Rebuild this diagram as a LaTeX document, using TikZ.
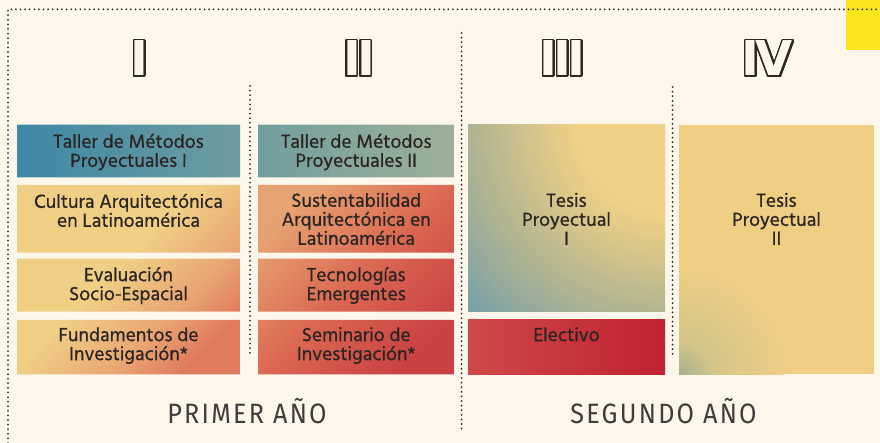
\documentclass[tikz,border=0pt]{standalone}
\usepackage{fontspec}
\usepackage{contour}
\setmainfont{Hind Madurai}[FakeBold=0.8]
\newfontfamily\numfont{DejaVu Sans}[LetterSpace=-8]
\newfontfamily\yearfont{Fira Sans}[LetterSpace=8, FakeStretch=0.9]
\usetikzlibrary{fit}
\contourlength{1.6pt}
\contournumber{32}
\definecolor{bg}{HTML}{FDF6EA}
\definecolor{tabyellow}{HTML}{FBE51B}
\definecolor{dotc}{HTML}{2B2B2B}
\definecolor{txt}{HTML}{2A2522}
\definecolor{numc}{HTML}{2B2724}
\definecolor{yearc}{HTML}{403C3C}
\definecolor{ba}{HTML}{3D88A7}
\definecolor{bb}{HTML}{5F99AA}
\definecolor{bc}{HTML}{9DB098}
\definecolor{wy}{HTML}{F0CF84}
\definecolor{wo}{HTML}{E9A673}
\definecolor{wr}{HTML}{E07A5E}
\definecolor{vo}{HTML}{E7A271}
\definecolor{vm}{HTML}{DB6852}
\definecolor{vr}{HTML}{CA4141}
\definecolor{ea}{HTML}{CF4848}
\definecolor{eb}{HTML}{C12231}
\definecolor{ty}{HTML}{F0D084}
\definecolor{tg}{HTML}{B0B491}
\definecolor{tb}{HTML}{78A0A8}
\definecolor{sg}{HTML}{A7AF91}
\definecolor{sm}{HTML}{D2C589}
\definecolor{sy}{HTML}{EFCE84}
\pgfdeclarehorizontalshading{warmone}{100bp}{color(0bp)=(wy); color(25bp)=(wy); color(46bp)=(wy); color(63bp)=(wo); color(75bp)=(wr); color(100bp)=(wr)}
\pgfdeclarehorizontalshading{warmtwo}{100bp}{color(0bp)=(vo); color(25bp)=(vo); color(50bp)=(vm); color(75bp)=(vr); color(100bp)=(vr)}
\pgfdeclareradialshading{tesisone}{\pgfpoint{0bp}{0bp}}{color(0bp)=(ty); color(8bp)=(ty); color(17bp)=(tg); color(24bp)=(tb); color(50bp)=(tb)}
\pgfdeclareradialshading{tesistwo}{\pgfpoint{0bp}{0bp}}{color(0bp)=(sg); color(8bp)=(sm); color(25bp)=(sy); color(50bp)=(sy)}
\tikzset{
  boxnode/.style={inner sep=0pt, outer sep=0pt},
  dotline/.style={draw=dotc, line width=2pt, line cap=round, dash pattern=on 0pt off 4.6pt},
  lbl/.style={anchor=north, inner sep=0pt, align=center, text=txt, font=\fontsize{19.5}{19}\selectfont},
  numeral/.style={anchor=base, inner sep=0pt, font=\numfont\bfseries\fontsize{48}{50}\selectfont},
  yearlbl/.style={anchor=base, inner sep=0pt, text=yearc, font=\yearfont\fontsize{28}{30}\selectfont}
}
\newcommand\fl{\rule{0pt}{17pt}}
\newcommand\outl[1]{\contour{numc}{\textcolor{bg}{#1}}}
\begin{document}
\begin{tikzpicture}[x=1pt,y=-1pt]
\useasboundingbox (0,0) rectangle (880,443);
\fill[bg] (0,0) rectangle (880,443);
\fill[tabyellow] (846,0) rectangle (880,50);
% frame and separators
\coordinate (fbl) at (8,443);
\coordinate (ftl) at (8,9.3);
\coordinate (ftr) at (880,9.3);
\draw[dotline] (fbl) -- (ftl) -- (ftr);
\coordinate (s1a) at (250,86);   \coordinate (s1b) at (250,357);
\coordinate (s2a) at (461.5,33); \coordinate (s2b) at (461.5,430);
\coordinate (s3a) at (672.5,87); \coordinate (s3b) at (672.5,355);
\draw[dotline] (s1a) -- (s1b);
\draw[dotline] (s2a) -- (s2b);
\draw[dotline] (s3a) -- (s3b);
% boxes
\node[boxnode, fit={(17,124.7) (240,177.3)}] (b11) {};
\node[boxnode, fit={(17,185) (240,252.7)}] (b21) {};
\node[boxnode, fit={(17,258.7) (240,311.7)}] (b31) {};
\node[boxnode, fit={(17,320) (240,374.3)}] (b41) {};
\node[boxnode, fit={(258,124.7) (454.5,177.3)}] (b12) {};
\node[boxnode, fit={(258,185) (454.5,252.7)}] (b22) {};
\node[boxnode, fit={(258,258.7) (454.5,311.7)}] (b32) {};
\node[boxnode, fit={(258,320) (454.5,374.3)}] (b42) {};
\node[boxnode, fit={(468,124.7) (665,311.7)}] (t1) {};
\node[boxnode, fit={(468,320) (665,374.3)}] (el) {};
\node[boxnode, fit={(679,124.7) (874,374.3)}] (t2) {};
% shadings
\begin{scope}
\clip (b11.north west) rectangle (b11.south east) (b12.north west) rectangle (b12.south east);
\shade[left color=ba, middle color=bb, right color=bc] (b11.north west) rectangle (b12.south east);
\end{scope}
\begin{scope}
\clip (b21.north west) rectangle (b21.south east) (b31.north west) rectangle (b31.south east) (b41.north west) rectangle (b41.south east);
\shade[shading=warmone, shading angle=-45] (b21.north west) rectangle (b41.south east);
\end{scope}
\begin{scope}
\clip (b22.north west) rectangle (b22.south east) (b32.north west) rectangle (b32.south east) (b42.north west) rectangle (b42.south east);
\shade[shading=warmtwo, shading angle=-45] (b22.north west) rectangle (b42.south east);
\end{scope}
\shade[left color=ea, right color=eb] (el.north west) rectangle (el.south east);
\begin{scope}
\clip (t1.north west) rectangle (t1.south east);
\shade[shading=tesisone] (t1.north east) circle[radius=280];
\end{scope}
\begin{scope}
\clip (t2.north west) rectangle (t2.south east);
\fill[sy] (t2.north west) rectangle (t2.south east);
\shade[shading=tesistwo] (t2.south west) circle[radius=105];
\end{scope}
% texts
\node[lbl] (x11) at (128.5,130.7) {\fl Taller de Métodos\\Proyectuales I};
\node[lbl] (x21) at (128.5,190.7) {\fl Cultura Arquitectónica\\en Latinoamérica};
\node[lbl] (x31) at (128.5,264) {\fl Evaluación\\Socio-Espacial};
\node[lbl] (x41) at (128.5,324) {\fl Fundamentos de\\Investigación*};
\node[lbl] (x12) at (356.2,130.7) {\fl Taller de Métodos\\Proyectuales II};
\node[lbl] (x22) at (356.2,189.7) {\fl Sustentabilidad\\Arquitectónica en\\Latinoamérica};
\node[lbl] (x32) at (356.2,264) {\fl Tecnologías\\Emergentes};
\node[lbl] (x42) at (356.2,324) {\fl Seminario de\\Investigación*};
\node[lbl] (xt1) at (566.5,189.7) {\fl Tesis\\Proyectual\\I};
\node[lbl] (xel) at (566.5,324) {\fl Electivo};
\node[lbl] (xt2) at (776.5,189.7) {\fl Tesis\\Proyectual\\II};
% numerals
\node[numeral] (n1) at (139.7,76) {\outl{I}};
\node[numeral] (n2) at (359,76) {\outl{II}};
\node[numeral] (n3) at (562.7,76) {\outl{III}};
\node[numeral] (n4) at (767.5,76) {\outl{IV}};
% years
\node[yearlbl] (y1) at (247,423) {PRIMER AÑO};
\node[yearlbl] (y2) at (663.5,423) {SEGUNDO AÑO};
\end{tikzpicture}
\end{document}
